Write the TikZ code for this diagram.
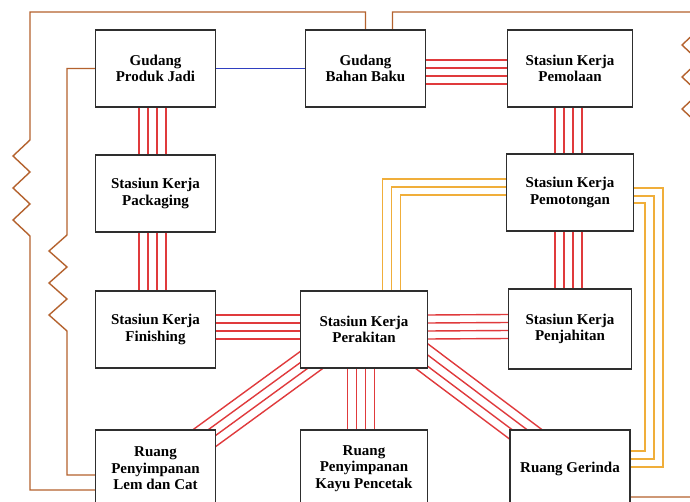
\documentclass[tikz,border=0pt]{standalone}
\usepackage{fontspec}
\setmainfont{Liberation Serif}
\usetikzlibrary{positioning, calc, backgrounds}

\definecolor{relA}{HTML}{E03A3C}
\definecolor{relE}{HTML}{F0AE3A}
\definecolor{relO}{HTML}{2F3FC0}
\definecolor{relX}{HTML}{B4622E}
\definecolor{boxline}{HTML}{2E2E2E}

\begin{document}
\begin{tikzpicture}[
    x=1pt, y=1pt,
    every node/.style={font=\fontsize{15}{16.5}\selectfont\bfseries},
    box/.style={draw=boxline, line width=1.3pt, fill=white, align=center,
                minimum width=120pt, minimum height=77pt, inner sep=2pt,
                outer sep=0pt},
    wide/.style={minimum width=127pt},
    aline/.style={relA, line width=1.4pt},
    eline/.style={relE, line width=1.6pt},
    oline/.style={relO, line width=1.3pt},
    xline/.style={relX, line width=1.4pt}
]
\useasboundingbox (0,0) rectangle (690,501);
\clip (0,0) rectangle (690,501);

% Stations
\node[box] (gpj) at (155.5,432.5) {Gudang\\Produk Jadi};
\node[box, right=90pt of gpj] (gbb) {Gudang\\Bahan Baku};
\node[box, right=82pt of gbb, minimum width=125pt] (pem) {Stasiun Kerja\\Pemolaan};
\node[box, below=48pt of gpj] (pack) {Stasiun Kerja\\Packaging};
\node[box, below=59pt of pack] (fin) {Stasiun Kerja\\Finishing};
\node[box, below=62pt of fin] (lemcat) {Ruang\\Penyimpanan\\Lem dan Cat};
\node[box, wide, below=47pt of pem] (pot) {Stasiun Kerja\\Pemotongan};
\node[box, minimum width=123pt, minimum height=80pt, below=58pt of pot] (penj) {Stasiun Kerja\\Penjahitan};
\node[box, below=61pt of penj] (rg) {Ruang Gerinda};
\node[box, wide, right=85pt of fin] (per) {Stasiun Kerja\\Perakitan};
\node[box, wide, below=62pt of per] (rpkp) {Ruang\\Penyimpanan\\Kayu Pencetak};

\begin{scope}[on background layer]
\fill[white] (0,0) rectangle (690,501);

% A: four red lines
\foreach \d in {-16.5,-7.5,1.5,10.5} {
  \draw[aline] ([xshift=\d pt]gpj.south) -- ([xshift=\d pt]pack.north);
  \draw[aline] ([xshift=\d pt]pack.south) -- ([xshift=\d pt]fin.north);
  \draw[aline] ([xshift=\d pt]per.south) -- ([xshift=\d pt]rpkp.north);
}
\foreach \d in {-15,-6,3,12} {
  \draw[aline] ([xshift=\d pt]pem.south) -- ([xshift=\d pt]pot.north);
  \draw[aline] ([xshift=\d pt]pot.south) -- ([xshift=\d pt]penj.north);
}
\foreach \d in {8.5,0.5,-7.5,-15.5}
  \draw[aline] ([yshift=\d pt]gbb.east) -- ([yshift=\d pt]pem.west);
\foreach \d in {14.5,6.5,-1.5,-9.5} {
  \draw[aline] ([yshift=\d pt]fin.east) -- ([yshift=\d pt]per.west);
  \draw[aline] ([yshift=\d pt]per.east) -- ([yshift=\d pt]penj.west);
}
\coordinate (dla) at ($(per.south west)!-30pt!(lemcat.north east)$);
\coordinate (dlb) at ($(lemcat.north east)!-30pt!(per.south west)$);
\foreach \d in {-13.5,-4.5,4.5,13.5}
  \draw[aline] ($(dla)!\d pt!90:(dlb)$) -- ($(dlb)!\d pt!-90:(dla)$);
\coordinate (dra) at ($(per.south east)!-30pt!(rg.north west)$);
\coordinate (drb) at ($(rg.north west)!-30pt!(per.south east)$);
\foreach \d in {-7.5,1.5,10.5,19.5}
  \draw[aline] ($(dra)!\d pt!90:(drb)$) -- ($(drb)!\d pt!-90:(dra)$);

% E: three orange lines
\foreach \a/\b in {18.5/13.5, 27.5/5.5, 36.5/-2.5}
  \draw[eline] ([xshift=\a pt]per.north) |- ([yshift=\b pt]pot.west);
\foreach \a/\b/\c in {4.5/29.5/1.5, -3.5/20.5/9.5, -10.5/11.5/17.5}
  \draw[eline] ([yshift=\a pt]pot.east) -- ++(\b,0) |- ([yshift=\c pt]rg.east);

% O: one blue line
\draw[oline] (gpj) -- (gbb);

% X: brown zigzag lines
\draw[xline] (gbb.north) |- (30,489) -- (30,361)
  \foreach \i in {1,2,3} { -- ++(-17,-16) -- ++(17,-16) }
  |- ([yshift=-21.5pt]lemcat.west);
\draw[xline] (gpj.west) -| (67,266)
  \foreach \i in {1,2,3} { -- ++(-18,-16) -- ++(18,-16) }
  |- ([yshift=-6.5pt]lemcat.west);
\draw[xline] ([xshift=27pt]gbb.north) |- (699,489) -- (699,472)
  \foreach \i in {1,2,3} { -- ++(-17,-16) -- ++(17,-16) }
  |- ([yshift=-28.5pt]rg.east);
\end{scope}

\end{tikzpicture}
\end{document}
